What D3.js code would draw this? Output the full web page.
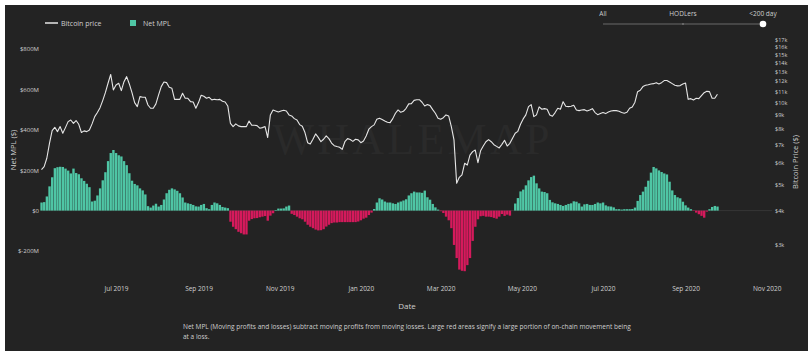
<!DOCTYPE html>
<html>
<head>
<meta charset="utf-8">
<script src="https://cdn.jsdelivr.net/npm/d3@7"></script>
<style>
  body { margin: 0; background: #fff; }
  svg { display: block; }
  text { font-family: "Open Sans", sans-serif; }
</style>
</head>
<body>
<div id="chart"></div>
<script>
// samples every 2 days starting 6 May 2019
var startDate = new Date(2019, 4, 6);
var stepDays = 2;

// bitcoin price ($)
var price = [
  5680, 5820, 6250, 7090, 7900, 8120, 7830, 8170, 7720, 8100,
  8520, 8640, 8400, 8600, 8330, 7770, 7880, 7830, 7940, 8360,
  8890, 9200, 9590, 10180, 10890, 11790, 12700, 11140, 11620, 11790,
  11080, 11950, 12470, 11720, 10890, 10010, 9675, 10530, 10470, 10470,
  9810, 9540, 9540, 9900, 10680, 11460, 11920, 11850, 11400, 11300,
  10290, 10290, 10290, 10830, 10380, 10380, 10090, 10060, 9540, 10010,
  10650, 10560, 10380, 10470, 10240, 10290, 10260, 10290, 10120, 10060,
  9730, 8400, 8170, 8360, 8220, 8170, 8170, 8170, 8570, 8260,
  8260, 8240, 8060, 8100, 8170, 7450, 9020, 9405, 9320, 9250,
  9320, 9380, 9320, 9020, 8940, 8740, 8640, 8310, 8190, 7770,
  7130, 7050, 7340, 7680, 7460, 7190, 7340, 7550, 7380, 7110,
  6950, 6900, 6860, 6740, 7190, 7380, 7320, 7210, 7340, 7300,
  7130, 7230, 7550, 7990, 8170, 8290, 8690, 8770, 8670, 8570,
  8480, 8450, 8740, 9145, 9405, 9220, 9300, 9540, 9900, 9920,
  10200, 10260, 10260, 10040, 9730, 9840, 9760, 9430, 9145, 8770,
  8690, 8810, 9020, 8940, 8170, 7300, 5060, 5320, 5430, 5990,
  5900, 6420, 6610, 6700, 6020, 6660, 6930, 7190, 7320, 7190,
  7010, 6910, 6820, 7030, 7280, 6930, 7090, 7400, 7720, 7850,
  8330, 8720, 9020, 9675, 9840, 8890, 9020, 9650, 9460, 9510,
  9460, 9020, 8920, 9200, 9540, 9460, 10090, 9700, 9675, 9700,
  9790, 9405, 9350, 9405, 9430, 9320, 9405, 9510, 9200, 9040,
  9120, 9200, 9120, 9250, 9320, 9350, 9350, 9300, 9200, 9145,
  9220, 9540, 9650, 10040, 10980, 11110, 11460, 11590, 11650, 11720,
  11750, 11850, 11720, 11850, 12060, 12060, 11920, 11750, 11590, 11530,
  11560, 11720, 11820, 10290, 10350, 10240, 10380, 10350, 10620, 10890,
  11010, 10980, 10380, 10380, 10740
];

// net MPL ($M)
var netMPL = [
  40, 42, 70, 120, 165, 210, 215, 217, 216, 208,
  198, 184, 208, 186, 180, 160, 147, 133, 116, 45,
  49, 75, 110, 150, 190, 245, 285, 300, 285, 274,
  268, 245, 225, 185, 148, 132, 125, 110, 100, 80,
  22, 15, 25, 34, 20, 28, 55, 86, 103, 110,
  105, 98, 86, 65, 40, 36, 33, 28, 21, 20,
  28, 33, 12, 7, 28, 40, 36, 28, 18, 15,
  12, -55, -80, -92, -105, -112, -118, -118, -50, -42,
  -38, -37, -33, -30, -27, -50, -25, -13, 3, 10,
  10, 11, 20, 25, -16, -22, -30, -38, -43, -55,
  -70, -80, -87, -94, -98, -97, -92, -79, -70, -62,
  -59, -59, -57, -57, -57, -57, -57, -57, -57, -54,
  -48, -40, -35, -22, -10, 8, 40, 61, 55, 45,
  40, 40, 36, 33, 40, 45, 50, 56, 75, 86,
  94, 90, 90, 88, 99, 66, 54, 33, 16, 5,
  -3, -12, -30, -48, -87, -170, -235, -292, -298, -300,
  -270, -235, -150, -80, -43, -28, -26, -30, -30, -32,
  -36, -40, -30, -17, -26, -20, -25, 0, 35, 62,
  95, 104, 125, 150, 166, 173, 135, 110, 94, 92,
  86, 53, 41, 36, 33, 28, 23, 28, 33, 36,
  46, 44, 36, 20, 31, 33, 28, 28, 33, 40,
  36, 40, 26, 21, 20, 16, 7, 7, 5, 7,
  7, 7, 8, 15, 48, 77, 94, 118, 148, 188,
  216, 209, 199, 191, 184, 179, 143, 100, 77, 66,
  61, 44, 26, 15, 7, -2, -10, -18, -26, -35,
  -5, 7, 18, 23, 20
];

var mplTicks = [-200, 0, 200, 400, 600, 800];
var priceTicks = [3000, 4000, 5000, 6000, 7000, 8000, 9000, 10000, 11000,
                  12000, 13000, 14000, 15000, 16000, 17000];
var monthTicks = [new Date(2019, 6, 1), new Date(2019, 8, 1), new Date(2019, 10, 1),
                  new Date(2020, 0, 1), new Date(2020, 2, 1), new Date(2020, 4, 1),
                  new Date(2020, 6, 1), new Date(2020, 8, 1), new Date(2020, 10, 1)];

var dates = price.map(function(v, i) { return d3.timeDay.offset(startDate, i * stepDays); });

var width = 810, height = 351;
var bg = "#232323", green = "#4fc6a5", red = "#d51a5c", txt = "#cfcfcf";

var svg = d3.select("#chart").append("svg")
  .attr("width", width)
  .attr("height", height);

// dark panel
svg.append("rect")
  .attr("x", 5).attr("y", 5)
  .attr("width", 803).attr("height", 346)
  .attr("fill", bg);

// scales
var x = d3.scaleTime()
  .domain([startDate, new Date(2020, 10, 5)])
  .range([41.5, 772]);

var yL = d3.scaleLinear()
  .domain([-200, 800])
  .range([251, 49]);

var yR = d3.scaleLog()
  .domain([3000, 17000])
  .range([245, 40]);

// watermark
svg.append("text")
  .attr("x", 411).attr("y", 154)
  .attr("text-anchor", "middle")
  .style("font-family", "'Liberation Serif', serif")
  .attr("font-size", 44)
  .attr("textLength", 277)
  .attr("fill", "#2a2a2a")
  .text("WHALEMAP");

// zero line
svg.append("line")
  .attr("x1", x.range()[0]).attr("x2", x.range()[1])
  .attr("y1", yL(0)).attr("y2", yL(0))
  .attr("stroke", "#363636")
  .attr("stroke-width", 1);

// bars
var bw = x(d3.timeDay.offset(startDate, stepDays)) - x(startDate);
svg.append("g").selectAll("rect")
  .data(netMPL)
  .enter().append("rect")
  .attr("x", function(d, i) { return x(dates[i]) - bw / 2 + 0.2; })
  .attr("width", bw - 0.3)
  .attr("y", function(d) { return d >= 0 ? yL(d) : yL(0); })
  .attr("height", function(d) { return Math.abs(yL(d) - yL(0)); })
  .attr("fill", function(d) { return d >= 0 ? green : red; });

// price line
var line = d3.line()
  .x(function(d, i) { return x(dates[i]); })
  .y(function(d) { return yR(d); });

svg.append("path")
  .datum(price)
  .attr("fill", "none")
  .attr("stroke", "#e6e6e6")
  .attr("stroke-width", 1.1)
  .attr("stroke-linejoin", "round")
  .attr("d", line);

// left axis
var gl = svg.append("g")
  .attr("transform", "translate(41,0)")
  .call(d3.axisLeft(yL).tickValues(mplTicks).tickSize(0).tickPadding(2)
    .tickFormat(function(d) { return "$" + d + (d === 0 ? "" : "M"); }));
gl.select(".domain").remove();
gl.selectAll("text").attr("fill", txt).attr("font-size", 6).style("font-family", "'Open Sans', sans-serif");

// right axis
var gr = svg.append("g")
  .attr("transform", "translate(773,0)")
  .call(d3.axisRight(yR).tickValues(priceTicks).tickSize(0).tickPadding(2)
    .tickFormat(function(d) { return "$" + (d / 1000) + "k"; }));
gr.select(".domain").remove();
gr.selectAll("text").attr("fill", txt).attr("font-size", 5.5).style("font-family", "'Open Sans', sans-serif");

// bottom axis
var gb = svg.append("g")
  .attr("transform", "translate(0,283)")
  .call(d3.axisBottom(x).tickValues(monthTicks).tickSize(0).tickPadding(3)
    .tickFormat(d3.timeFormat("%b %Y")));
gb.select(".domain").remove();
gb.selectAll("text").attr("fill", txt).attr("font-size", 6.5).style("font-family", "'Open Sans', sans-serif");

// axis titles
svg.append("text")
  .attr("transform", "translate(16,150) rotate(-90)")
  .attr("text-anchor", "middle")
  .attr("fill", txt).attr("font-size", 7.5)
  .text("Net MPL ($)");

svg.append("text")
  .attr("transform", "translate(798,162) rotate(-90)")
  .attr("text-anchor", "middle")
  .attr("fill", txt).attr("font-size", 7.5)
  .text("Bitcoin Price ($)");

svg.append("text")
  .attr("x", 407).attr("y", 309)
  .attr("text-anchor", "middle")
  .attr("fill", txt).attr("font-size", 8)
  .text("Date");

// caption
svg.append("text")
  .attr("x", 183).attr("y", 329)
  .attr("fill", txt).attr("font-size", 6.5)
  .text("Net MPL (Moving profits and losses) subtract moving profits from moving losses. Large red areas signify a large portion of on-chain movement being");
svg.append("text")
  .attr("x", 183).attr("y", 338.5)
  .attr("fill", txt).attr("font-size", 6.5)
  .text("at a loss.");

// legend
svg.append("line")
  .attr("x1", 45).attr("x2", 58).attr("y1", 23).attr("y2", 23)
  .attr("stroke", "#e6e6e6").attr("stroke-width", 1.5);
svg.append("text")
  .attr("x", 61).attr("y", 25.5)
  .attr("fill", txt).attr("font-size", 7)
  .text("Bitcoin price");
svg.append("rect")
  .attr("x", 130).attr("y", 20).attr("width", 6).attr("height", 6)
  .attr("fill", green);
svg.append("text")
  .attr("x", 143).attr("y", 25.5)
  .attr("fill", txt).attr("font-size", 7)
  .text("Net MPL");

// slider
var sliderLabels = ["All", "HODLers", "<200 day"];
var sx = d3.scalePoint().domain(sliderLabels).range([603, 763]);
svg.append("line")
  .attr("x1", sx("All")).attr("x2", sx("<200 day"))
  .attr("y1", 24).attr("y2", 24)
  .attr("stroke", "#6a6a6a").attr("stroke-width", 1.2);
svg.append("line")
  .attr("x1", sx("HODLers")).attr("x2", sx("HODLers"))
  .attr("y1", 23).attr("y2", 25)
  .attr("stroke", "#9a9a9a").attr("stroke-width", 0.8);
svg.selectAll(".slab")
  .data(sliderLabels)
  .enter().append("text")
  .attr("x", function(d) { return sx(d); })
  .attr("y", 16)
  .attr("text-anchor", "middle")
  .attr("fill", txt).attr("font-size", 6.5)
  .text(function(d) { return d; });
svg.append("circle")
  .attr("cx", sx("<200 day")).attr("cy", 24).attr("r", 3.3)
  .attr("fill", "#ffffff");
</script>
</body>
</html>
